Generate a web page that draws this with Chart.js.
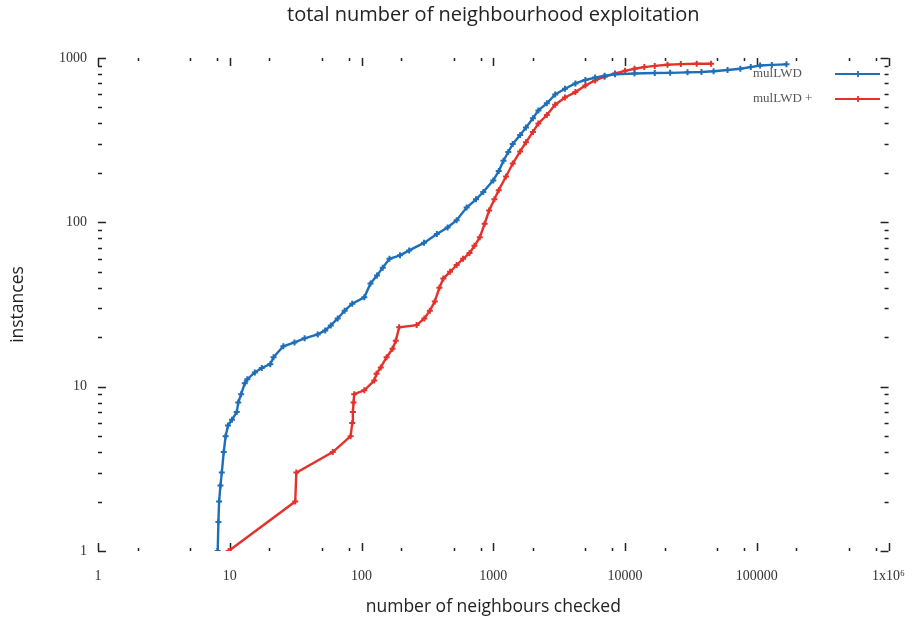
<!DOCTYPE html>
<html>
<head>
<meta charset="utf-8">
<script src="https://cdn.jsdelivr.net/npm/chart.js@4"></script>
<style>
  html, body { margin: 0; padding: 0; background: #fff; }
  #wrap { width: 922px; height: 621px; }
</style>
</head>
<body>
<div id="wrap"><canvas id="chart"></canvas></div>
<script>
/* ==========================================
   DATA
========================================== */

// mulLWD
const blueX = [8.1, 8.2, 8.3, 8.5, 8.7, 9.0, 9.3, 9.7, 10.4, 11.3, 11.6, 12.2, 13, 13.6, 15.5, 17.5,
    20.3, 21.5, 25.5, 31, 37, 46.5, 53, 58.5, 66, 74.5, 85, 105, 117, 131, 145, 163, 196, 230,
    298, 373, 450, 527, 628, 740, 840, 1000, 1100, 1195, 1300, 1405, 1600, 1770, 2000, 2200,
    2550, 2950, 3500, 4200, 5000, 5930, 7000, 8400, 11800, 16800, 22000, 29800, 38000, 47000,
    60000, 75000, 90000, 106000, 130000, 168000];
const blueY = [1, 1.5, 2, 2.5, 3, 4, 5, 5.8, 6.3, 7, 8, 9, 10.5, 11.1, 12.2, 13,
    13.7, 15.1, 17.6, 18.6, 19.7, 20.8, 22, 23.6, 26, 29, 32, 35, 42.5, 47.5, 53, 60, 63, 67.5,
    75, 85, 93, 103, 123, 138, 153, 180, 205, 237, 268, 300, 340, 377, 430, 480,
    530, 600, 650, 700, 735, 760, 780, 795, 805, 810, 812, 818, 822, 830,
    845, 860, 880, 900, 908, 915];

// mulLWD +
const redX = [9.8, 31.4, 32, 60.5, 82.7, 85, 86, 87, 88, 105, 125, 130, 140, 155, 172, 182, 193,
    262, 300, 330, 360, 390, 418, 470, 527, 590, 660, 720, 790, 860, 930, 1020, 1100, 1250,
    1405, 1600, 1770, 2000, 2200, 2550, 2950, 3500, 4200, 5000, 5930, 7000, 8400, 10000,
    11800, 14000, 16800, 21000, 26500, 35000, 45000];
const redY = [1, 2, 3, 4, 5, 6, 7, 8, 9, 9.5, 10.9, 12, 13.1, 15.1, 17, 19, 23,
    23.7, 26, 29, 33, 40, 45.5, 50, 55, 60, 65, 72, 81, 98, 118, 138, 157, 190,
    228, 270, 307, 355, 400, 450, 520, 575, 620, 680, 730, 770, 805, 835,
    860, 880, 895, 910, 918, 922, 922];

// Axis ticks
const xTickValues = [1, 10, 100, 1000, 10000, 100000, 1000000];
const xTickLabels = ["1", "10", "100", "1000", "10000", "100000", "1x10\u2076"];
const yTickValues = [1, 10, 100, 1000];
const yTickLabels = ["1", "10", "100", "1000"];

const seriesNames = ["mulLWD", "mulLWD +"];
const blueColor = "#1f6eb8";
const redColor = "#e3322b";

const toPoints = (xs, ys) => xs.map((x, i) => ({ x: x, y: ys[i] }));

/* ==========================================
   GNUPLOT STYLE FRAME, TITLE AND KEY
========================================== */

const gnuplotFrame = {
    id: "gnuplotFrame",
    beforeDatasetsDraw(chart) {
        const ctx = chart.ctx;
        const a = chart.chartArea;
        const xs = chart.scales.x;
        const ys = chart.scales.y;
        ctx.save();
        ctx.strokeStyle = "#222";
        ctx.lineWidth = 1.5;
        ctx.beginPath();
        // x ticks (bottom and top, pointing inwards)
        xTickValues.forEach((d, i) => {
            const px = Math.round(xs.getPixelForValue(d)) + 0.5;
            ctx.moveTo(px, a.bottom); ctx.lineTo(px, a.bottom - 8);
            ctx.moveTo(px, a.top); ctx.lineTo(px, a.top + 8);
            if (i < xTickValues.length - 1) {
                [2, 5, 8].forEach(m => {
                    const mx = Math.round(xs.getPixelForValue(d * m)) + 0.5;
                    ctx.moveTo(mx, a.bottom); ctx.lineTo(mx, a.bottom - 3);
                    ctx.moveTo(mx, a.top); ctx.lineTo(mx, a.top + 3);
                });
            }
        });
        // y ticks (left and right)
        yTickValues.forEach((d, i) => {
            const py = Math.round(ys.getPixelForValue(d)) + 0.5;
            ctx.moveTo(a.left, py); ctx.lineTo(a.left + 8, py);
            ctx.moveTo(a.right, py); ctx.lineTo(a.right - 8, py);
            if (i < yTickValues.length - 1) {
                [2, 3, 4, 5, 6, 7, 8, 9].forEach(m => {
                    const my = Math.round(ys.getPixelForValue(d * m)) + 0.5;
                    ctx.moveTo(a.left, my); ctx.lineTo(a.left + 4, my);
                    ctx.moveTo(a.right, my); ctx.lineTo(a.right - 4, my);
                });
            }
        });
        ctx.stroke();
        ctx.restore();
    },
    afterDraw(chart) {
        const ctx = chart.ctx;
        const a = chart.chartArea;
        ctx.save();

        // title
        ctx.fillStyle = "#222";
        ctx.font = "20px 'Open Sans'";
        ctx.textAlign = "center";
        ctx.textBaseline = "middle";
        ctx.fillText("total number of neighbourhood exploitation", (a.left + a.right) / 2, 15);

        // key
        const colors = [blueColor, redColor];
        ctx.font = "13px 'Liberation Serif'";
        ctx.textAlign = "left";
        seriesNames.forEach((name, i) => {
            const y = 74 + i * 25;
            ctx.fillStyle = "#555";
            ctx.fillText(name, 753, y);
            ctx.strokeStyle = colors[i];
            ctx.lineWidth = 1.8;
            ctx.beginPath();
            ctx.moveTo(835, y); ctx.lineTo(880, y);
            ctx.moveTo(858, y - 3); ctx.lineTo(858, y + 3);
            ctx.stroke();
        });
        ctx.restore();
    }
};

/* ==========================================
   CHART
========================================== */

new Chart(document.getElementById("chart"), {

    type: "scatter",

    data: {
        datasets: [
            {
                label: seriesNames[0],
                data: toPoints(blueX, blueY),
                showLine: true,
                borderColor: blueColor,
                backgroundColor: blueColor,
                borderWidth: 2.4,
                pointStyle: "cross",
                pointRadius: 3,
                pointBorderWidth: 2
            },
            {
                label: seriesNames[1],
                data: toPoints(redX, redY),
                showLine: true,
                borderColor: redColor,
                backgroundColor: redColor,
                borderWidth: 2.4,
                pointStyle: "cross",
                pointRadius: 3,
                pointBorderWidth: 2
            }
        ]
    },

    options: {
        responsive: true,
        maintainAspectRatio: false,
        animation: false,
        layout: {
            padding: { top: 58, right: 26, left: 0, bottom: 0 }
        },
        plugins: {
            legend: { display: false },
            title: { display: false },
            tooltip: { enabled: false }
        },
        scales: {
            x: {
                type: "logarithmic",
                min: 1,
                max: 1000000,
                afterBuildTicks: s => { s.ticks = xTickValues.map(v => ({ value: v })); },
                afterFit: s => { s.height = 70; },
                grid: { display: false, drawTicks: false },
                border: { display: false },
                ticks: {
                    autoSkip: false,
                    maxRotation: 0,
                    padding: 17,
                    color: "#333",
                    font: { family: "'Liberation Serif'", size: 14 },
                    callback: (v, i) => xTickLabels[i]
                },
                title: {
                    display: true,
                    text: "number of neighbours checked",
                    color: "#222",
                    font: { family: "'Open Sans'", size: 17.5 },
                    padding: { top: 0, bottom: 3 }
                }
            },
            y: {
                type: "logarithmic",
                min: 1,
                max: 1000,
                afterBuildTicks: s => { s.ticks = yTickValues.map(v => ({ value: v })); },
                afterFit: s => { s.width = 98; },
                grid: { display: false, drawTicks: false },
                border: { display: false },
                ticks: {
                    autoSkip: false,
                    padding: 11,
                    color: "#333",
                    font: { family: "'Liberation Serif'", size: 14 },
                    callback: (v, i) => yTickLabels[i]
                },
                title: {
                    display: true,
                    text: "instances",
                    color: "#222",
                    font: { family: "'Open Sans'", size: 17.5 },
                    padding: { top: 8, bottom: 0 }
                }
            }
        }
    },

    plugins: [gnuplotFrame]

});
</script>
</body>
</html>
